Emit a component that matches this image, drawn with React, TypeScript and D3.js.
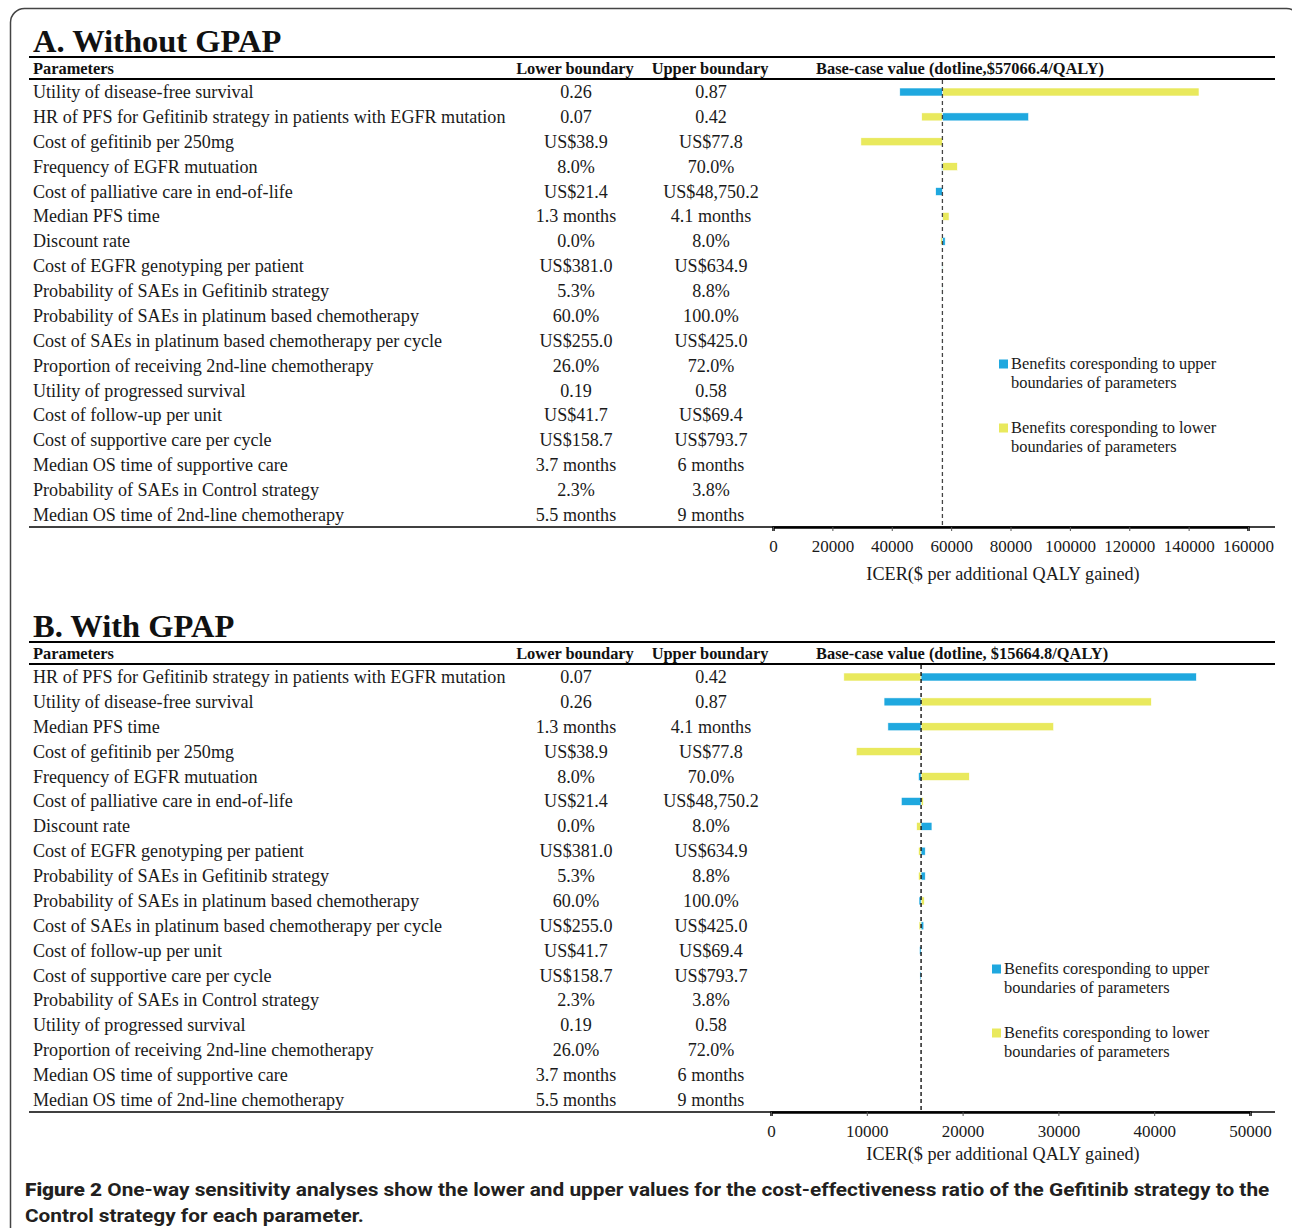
import React, { useEffect, useRef } from 'react';
import * as d3 from 'd3';

// Panel A: without GPAP
const paramsA = [
  'Utility of disease-free survival',
  'HR of PFS for Gefitinib strategy in patients with EGFR mutation',
  'Cost of gefitinib per 250mg',
  'Frequency of EGFR mutuation',
  'Cost of palliative care in end-of-life',
  'Median PFS time',
  'Discount rate',
  'Cost of EGFR genotyping per patient',
  'Probability of SAEs in Gefitinib strategy',
  'Probability of SAEs in platinum based chemotherapy',
  'Cost of SAEs in platinum based chemotherapy per cycle',
  'Proportion of receiving 2nd-line chemotherapy',
  'Utility of progressed survival',
  'Cost of follow-up per unit',
  'Cost of supportive care per cycle',
  'Median OS time of supportive care',
  'Probability of SAEs in Control strategy',
  'Median OS time of 2nd-line chemotherapy',
];
const lowerA = ['0.26', '0.07', 'US$38.9', '8.0%', 'US$21.4', '1.3 months', '0.0%', 'US$381.0', '5.3%', '60.0%', 'US$255.0', '26.0%', '0.19', 'US$41.7', 'US$158.7', '3.7 months', '2.3%', '5.5 months'];
const upperA = ['0.87', '0.42', 'US$77.8', '70.0%', 'US$48,750.2', '4.1 months', '8.0%', 'US$634.9', '8.8%', '100.0%', 'US$425.0', '72.0%', '0.58', 'US$69.4', 'US$793.7', '6 months', '3.8%', '9 months'];
// ICER at lower boundary (yellow) and at upper boundary (blue)
const icerLowA = [143500, 50100, 29600, 62100, 57066.4, 59300, 56500, 57300, 57250, 56950, 57200, 57066.4, 57066.4, 57066.4, 57066.4, 57066.4, 57066.4, 57066.4];
const icerHighA = [42700, 86100, 57066.4, 56800, 54800, 57000, 58000, 56900, 56950, 57200, 57000, 57066.4, 57066.4, 57066.4, 57066.4, 57066.4, 57066.4, 57066.4];
const baseA = 57066.4;
const ticksA = [0, 20000, 40000, 60000, 80000, 100000, 120000, 140000, 160000];

// Panel B: with GPAP
const paramsB = [
  'HR of PFS for Gefitinib strategy in patients with EGFR mutation',
  'Utility of disease-free survival',
  'Median PFS time',
  'Cost of gefitinib per 250mg',
  'Frequency of EGFR mutuation',
  'Cost of palliative care in end-of-life',
  'Discount rate',
  'Cost of EGFR genotyping per patient',
  'Probability of SAEs in Gefitinib strategy',
  'Probability of SAEs in platinum based chemotherapy',
  'Cost of SAEs in platinum based chemotherapy per cycle',
  'Cost of follow-up per unit',
  'Cost of supportive care per cycle',
  'Probability of SAEs in Control strategy',
  'Utility of progressed survival',
  'Proportion of receiving 2nd-line chemotherapy',
  'Median OS time of supportive care',
  'Median OS time of 2nd-line chemotherapy',
];
const lowerB = ['0.07', '0.26', '1.3 months', 'US$38.9', '8.0%', 'US$21.4', '0.0%', 'US$381.0', '5.3%', '60.0%', 'US$255.0', 'US$41.7', 'US$158.7', '2.3%', '0.19', '26.0%', '3.7 months', '5.5 months'];
const upperB = ['0.42', '0.87', '4.1 months', 'US$77.8', '70.0%', 'US$48,750.2', '8.0%', 'US$634.9', '8.8%', '100.0%', 'US$425.0', 'US$69.4', 'US$793.7', '3.8%', '0.58', '72.0%', '6 months', '9 months'];
const icerLowB = [7600, 39700, 29500, 8900, 20700, 15900, 15200, 15400, 15400, 16000, 15450, 15664.8, 15664.8, 15664.8, 15664.8, 15664.8, 15664.8, 15664.8];
const icerHighB = [44400, 11800, 12200, 15664.8, 15400, 13600, 16800, 16100, 16100, 15450, 15950, 15500, 15550, 15664.8, 15664.8, 15664.8, 15664.8, 15664.8];
const baseB = 15664.8;
const ticksB = [0, 10000, 20000, 30000, 40000, 50000];

const BLUE = '#1fa8df';
const YELLOW = '#e9e95d';
const SERIF = '"Liberation Serif", "Times New Roman", serif';

interface PanelCfg {
  dy: number;
  title: string;
  baseLabel: string;
  params: string[];
  lower: string[];
  upper: string[];
  icerLow: number[];
  icerHigh: number[];
  base: number;
  ticks: number[];
  range: [number, number];
  legendX: number;
  legendY: number;
  axisTitleY: number;
  dashColor: string;
}

function drawPanel(svg: d3.Selection<SVGSVGElement, unknown, null, undefined>, c: PanelCfg) {
  const g = svg.append('g').attr('transform', `translate(0, ${c.dy})`);
  const x = d3.scaleLinear().domain([c.ticks[0], c.ticks[c.ticks.length - 1]]).range(c.range);
  const y = d3.scalePoint<number>().domain(d3.range(c.params.length)).range([92, 515]);

  g.append('text').attr('x', 33).attr('y', 52).attr('font-family', SERIF)
    .attr('font-size', 32.5).attr('font-weight', 'bold').attr('fill', '#111').text(c.title);

  const hline = (yy: number, w: number) =>
    g.append('line').attr('x1', 29).attr('x2', 1275).attr('y1', yy).attr('y2', yy)
      .attr('stroke', '#000').attr('stroke-width', w);
  hline(57, 2);
  hline(79, 2);
  hline(527, 1.5);

  const hdr = g.append('g').attr('font-family', SERIF).attr('font-size', 16.4)
    .attr('font-weight', 'bold').attr('fill', '#111');
  hdr.append('text').attr('x', 33).attr('y', 74).text('Parameters');
  hdr.append('text').attr('x', 575).attr('y', 74).attr('text-anchor', 'middle').text('Lower boundary');
  hdr.append('text').attr('x', 710).attr('y', 74).attr('text-anchor', 'middle').text('Upper boundary');
  hdr.append('text').attr('x', 816).attr('y', 74).text(c.baseLabel);

  const rows = g.append('g').attr('font-family', SERIF).attr('font-size', 18.1).attr('fill', '#1a1a1a');
  c.params.forEach((p, i) => {
    const yy = y(i)! + 6;
    rows.append('text').attr('x', 33).attr('y', yy).text(p);
    rows.append('text').attr('x', 576).attr('y', yy).attr('text-anchor', 'middle').text(c.lower[i]);
    rows.append('text').attr('x', 711).attr('y', yy).attr('text-anchor', 'middle').text(c.upper[i]);
  });

  // bars
  const bars = g.append('g');
  const bar = (v: number, i: number, color: string) => {
    const x0 = Math.min(x(v), x(c.base));
    const w = Math.abs(x(v) - x(c.base));
    if (w < 0.05) return;
    bars.append('rect').attr('x', x0).attr('y', y(i)! - 4).attr('width', w).attr('height', 8)
      .attr('fill', color).attr('stroke', '#fff').attr('stroke-width', 0.6);
  };
  c.params.forEach((_, i) => {
    bar(c.icerLow[i], i, YELLOW);
    bar(c.icerHigh[i], i, BLUE);
  });

  // base-case dotline
  g.append('line').attr('x1', x(c.base)).attr('x2', x(c.base)).attr('y1', 80).attr('y2', 526)
    .attr('stroke', c.dashColor).attr('stroke-width', 1.3).attr('stroke-dasharray', '4,3');

  // axis
  const axis = g.append('g').attr('transform', 'translate(0, 527)')
    .call(d3.axisBottom(x).tickValues(c.ticks).tickSize(4).tickPadding(9).tickFormat(d3.format('d')));
  axis.select('.domain').attr('stroke', '#000').attr('stroke-width', 2.5);
  axis.selectAll('.tick line').attr('stroke', '#555');
  axis.selectAll('.tick text').attr('font-family', SERIF).attr('font-size', 17).attr('fill', '#1a1a1a');

  g.append('text').attr('x', 1003).attr('y', c.axisTitleY).attr('text-anchor', 'middle')
    .attr('font-family', SERIF).attr('font-size', 18.2).attr('fill', '#1a1a1a')
    .text('ICER($ per additional QALY gained)');

  // legend
  const lg = g.append('g').attr('font-family', SERIF).attr('font-size', 16.4).attr('fill', '#1a1a1a');
  const items = [
    { color: BLUE, lines: ['Benefits coresponding to upper', 'boundaries of parameters'] },
    { color: YELLOW, lines: ['Benefits coresponding to lower', 'boundaries of parameters'] },
  ];
  items.forEach((it, k) => {
    const ly = c.legendY + k * 64;
    lg.append('rect').attr('x', c.legendX).attr('y', ly - 4.5).attr('width', 9).attr('height', 9).attr('fill', it.color);
    it.lines.forEach((t, j) => {
      lg.append('text').attr('x', c.legendX + 12).attr('y', ly + 5 + j * 19).text(t);
    });
  });
}

const App: React.FC = () => {
  const svgRef = useRef<SVGSVGElement>(null);

  useEffect(() => {
    if (!svgRef.current) return;
    const svg = d3.select(svgRef.current);
    svg.selectAll('*').remove();

    svg.append('rect').attr('x', 0).attr('y', 0).attr('width', 1292).attr('height', 1228).attr('fill', '#fff');
    svg.append('rect').attr('x', 10.5).attr('y', 8.5).attr('width', 1290).attr('height', 1260)
      .attr('rx', 14).attr('fill', 'none').attr('stroke', '#444').attr('stroke-width', 1.5);

    drawPanel(svg, {
      dy: 0, title: 'A. Without GPAP', baseLabel: 'Base-case value (dotline,$57066.4/QALY)',
      params: paramsA, lower: lowerA, upper: upperA, icerLow: icerLowA, icerHigh: icerHighA,
      base: baseA, ticks: ticksA, range: [773, 1248], legendX: 999, legendY: 364, axisTitleY: 580,
      dashColor: '#444',
    });
    drawPanel(svg, {
      dy: 585, title: 'B. With GPAP', baseLabel: 'Base-case value (dotline, $15664.8/QALY)',
      params: paramsB, lower: lowerB, upper: upperB, icerLow: icerLowB, icerHigh: icerHighB,
      base: baseB, ticks: ticksB, range: [771, 1250], legendX: 992, legendY: 384, axisTitleY: 575,
      dashColor: '#000',
    });

    // caption, squeezed horizontally to the figure width
    const cap = svg.append('g').attr('font-family', 'Roboto, "DejaVu Sans", sans-serif')
      .attr('font-size', 19).attr('fill', '#231f20');
    const l1 = cap.append('text').attr('x', 0).attr('y', 1196).attr('font-weight', 'bold');
    l1.append('tspan').attr('font-weight', 900).text('Figure 2 ');
    l1.append('tspan').text('One-way sensitivity analyses show the lower and upper values for the cost-effectiveness ratio of the Gefitinib strategy to the');
    cap.append('text').attr('x', 0).attr('y', 1222).attr('font-weight', 'bold')
      .text('Control strategy for each parameter.');
    const natural = (l1.node() as SVGTextElement).getComputedTextLength();
    const sx = natural > 0 ? 1245 / natural : 1;
    cap.attr('transform', `translate(25, 0) scale(${sx}, 1)`);
  }, []);

  return (
    <svg ref={svgRef} width={1292} height={1228}
      style={{ position: 'absolute', left: 0, top: 0, display: 'block' }} />
  );
};

export default App;
